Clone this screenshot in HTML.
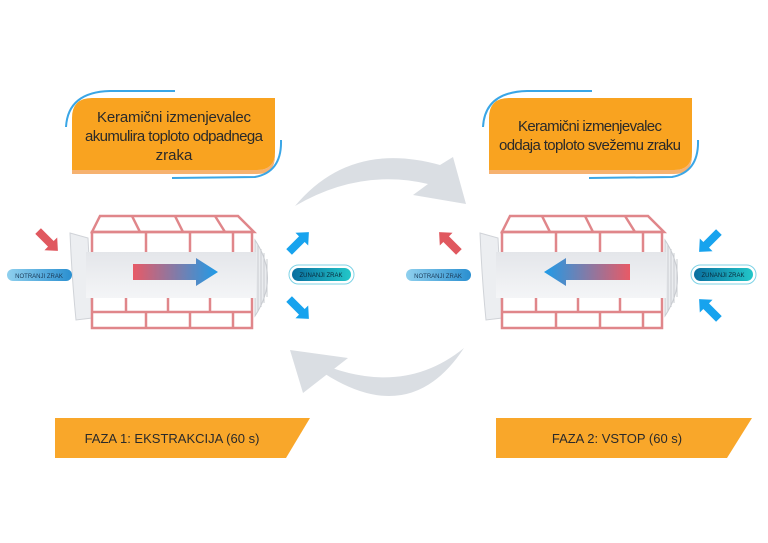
<!DOCTYPE html>
<html><head><meta charset="utf-8"><style>
html,body{margin:0;padding:0;background:#fff;width:768px;height:543px;overflow:hidden}
svg{display:block}
text{font-family:"Liberation Sans",sans-serif}
</style></head><body>
<svg width="768" height="543" viewBox="0 0 768 543" xmlns="http://www.w3.org/2000/svg">
<defs>
<linearGradient id="rb" x1="0" x2="1"><stop offset="0" stop-color="#e85a66"/><stop offset="1" stop-color="#1e9be8"/></linearGradient>
<linearGradient id="br" x1="0" x2="1"><stop offset="0" stop-color="#1e9be8"/><stop offset="1" stop-color="#e85a66"/></linearGradient>
<linearGradient id="nl" x1="0" x2="1"><stop offset="0" stop-color="#8fd0ee"/><stop offset="1" stop-color="#2a8fd0"/></linearGradient>
<linearGradient id="zl" x1="0" x2="1"><stop offset="0" stop-color="#0a6fa0"/><stop offset="1" stop-color="#22c6c8"/></linearGradient>
<linearGradient id="tube" x1="0" x2="0" y1="0" y2="1"><stop offset="0" stop-color="#e4e6ea"/><stop offset="1" stop-color="#f4f5f7"/></linearGradient>
<g id="unit">
  <path d="M70,233 L88,238 L92,318 L76,320 Q72,280 70,233Z" fill="#eceef1" stroke="#d0d3d8" stroke-width="1"/>
  <path d="M255,240 Q280,278 255,316Z" fill="#eaecef" stroke="#c9ccd1"/>
  <g stroke="#c9ccd1" stroke-width="1">
    <line x1="258" y1="245" x2="258" y2="311"/><line x1="261" y1="249" x2="261" y2="307"/><line x1="264" y1="253" x2="264" y2="303"/><line x1="267" y1="259" x2="267" y2="297"/>
  </g>
  <g fill="none" stroke="#e0868a" stroke-width="2.5">
    <path d="M92,232 L100,216 L238,216 L254,232 Z"/>
    <line x1="132" y1="216" x2="140" y2="232"/><line x1="175" y1="216" x2="183" y2="232"/><line x1="215" y1="216" x2="225" y2="232"/>
    <rect x="92" y="232" width="160" height="96"/>
    <line x1="146" y1="232" x2="146" y2="252"/><line x1="190" y1="232" x2="190" y2="252"/><line x1="233" y1="232" x2="233" y2="252"/>
    <line x1="92" y1="312" x2="252" y2="312"/>
    <line x1="126" y1="298" x2="126" y2="312"/><line x1="168" y1="298" x2="168" y2="312"/><line x1="210" y1="298" x2="210" y2="312"/>
    <line x1="146" y1="312" x2="146" y2="328"/><line x1="190" y1="312" x2="190" y2="328"/><line x1="233" y1="312" x2="233" y2="328"/>
  </g>
  <rect x="86" y="252" width="170" height="46" fill="url(#tube)"/>
</g>
<g id="wall">
  <path d="M88,98 H275 V152 Q275,170 257,170 H72 V118 Q72,98 92,98Z" fill="#f9a320"/>
  <path d="M72,170 H257 Q275,170 275,152 V156 Q275,174 257,174 H72Z" fill="#f07f10" opacity="0.6"/>
  <path d="M66,127 Q68,92 110,91 L175,91" fill="none" stroke="#3aa6e6" stroke-width="2"/>
  <path d="M172,178 L255,177 Q282,172 281,140" fill="none" stroke="#3aa6e6" stroke-width="2"/>
</g>
</defs>

<use href="#wall"/>
<text x="174" y="122" text-anchor="middle" font-size="15" fill="#2a2a2a" textLength="154">Keramični izmenjevalec</text>
<text x="174" y="141" text-anchor="middle" font-size="15" fill="#2a2a2a" textLength="178">akumulira toploto odpadnega</text>
<text x="174" y="160" text-anchor="middle" font-size="15" fill="#2a2a2a">zraka</text>

<use href="#wall" transform="translate(417,0)"/>
<text x="590" y="131" text-anchor="middle" font-size="15" fill="#2a2a2a" textLength="144">Keramični izmenjevalec</text>
<text x="590" y="150" text-anchor="middle" font-size="15" fill="#2a2a2a" textLength="182">oddaja toploto svežemu zraku</text>

<use href="#unit"/>
<use href="#unit" transform="translate(410,0)"/>

<path d="M133,264 H196 V258 L218,272 L196,286 V280 H133Z" fill="url(#rb)"/>
<path d="M630,264 H566 V258 L544,272 L566,286 V280 H630Z" fill="url(#br)"/>

<g transform="translate(48,241) rotate(45)"><path d="M-14,-4 H4 V-9 L14,0 L4,9 V4 H-14Z" fill="#e0585f"/></g>
<g transform="translate(299,242) rotate(-45)"><path d="M-14,-4 H4 V-9 L14,0 L4,9 V4 H-14Z" fill="#17a3ee"/></g>
<g transform="translate(299,309) rotate(45)"><path d="M-14,-4 H4 V-9 L14,0 L4,9 V4 H-14Z" fill="#17a3ee"/></g>
<g transform="translate(449,242) rotate(-135)"><path d="M-14,-4 H4 V-9 L14,0 L4,9 V4 H-14Z" fill="#e0585f"/></g>
<g transform="translate(709,242) rotate(135)"><path d="M-14,-4 H4 V-9 L14,0 L4,9 V4 H-14Z" fill="#17a3ee"/></g>
<g transform="translate(709,309) rotate(-135)"><path d="M-14,-4 H4 V-9 L14,0 L4,9 V4 H-14Z" fill="#17a3ee"/></g>

<rect x="7" y="269" width="65" height="12" rx="6" fill="url(#nl)"/>
<text x="39" y="278" text-anchor="middle" font-size="6" fill="#1b3a57">NOTRANJI ZRAK</text>
<rect x="289" y="265" width="65" height="19" rx="9.5" fill="#fff" stroke="#7fd3e6" stroke-width="1"/>
<rect x="292" y="268" width="59" height="13" rx="6.5" fill="url(#zl)"/>
<text x="321" y="277" text-anchor="middle" font-size="6" fill="#0a2a3a">ZUNANJI ZRAK</text>
<rect x="406" y="269" width="65" height="12" rx="6" fill="url(#nl)"/>
<text x="438" y="278" text-anchor="middle" font-size="6" fill="#1b3a57">NOTRANJI ZRAK</text>
<rect x="691" y="265" width="65" height="19" rx="9.5" fill="#fff" stroke="#7fd3e6" stroke-width="1"/>
<rect x="694" y="268" width="59" height="13" rx="6.5" fill="url(#zl)"/>
<text x="723" y="277" text-anchor="middle" font-size="6" fill="#0a2a3a">ZUNANJI ZRAK</text>

<!-- gray cycle arrows -->
<path d="M295,206 Q350,140 440,165 L453,157 L466,204 L413,195 L428,184 Q360,168 295,206 Z" fill="#dadee3"/>
<path d="M464,348 Q410,430 322,372 L312,360 Q400,400 464,348 Z" fill="#dadee3"/>
<path d="M290,350 L348,358 L303,393 Z" fill="#dadee3"/>

<path d="M55,418 H310 L286,458 H55Z" fill="#f9a72a"/>
<text x="172" y="443" text-anchor="middle" font-size="13" fill="#2a2a2a">FAZA 1: EKSTRAKCIJA (60 s)</text>
<path d="M496,418 H752 L727,458 H496Z" fill="#f9a72a"/>
<text x="617" y="443" text-anchor="middle" font-size="13" fill="#2a2a2a">FAZA 2: VSTOP (60 s)</text>
</svg>
</body></html>
